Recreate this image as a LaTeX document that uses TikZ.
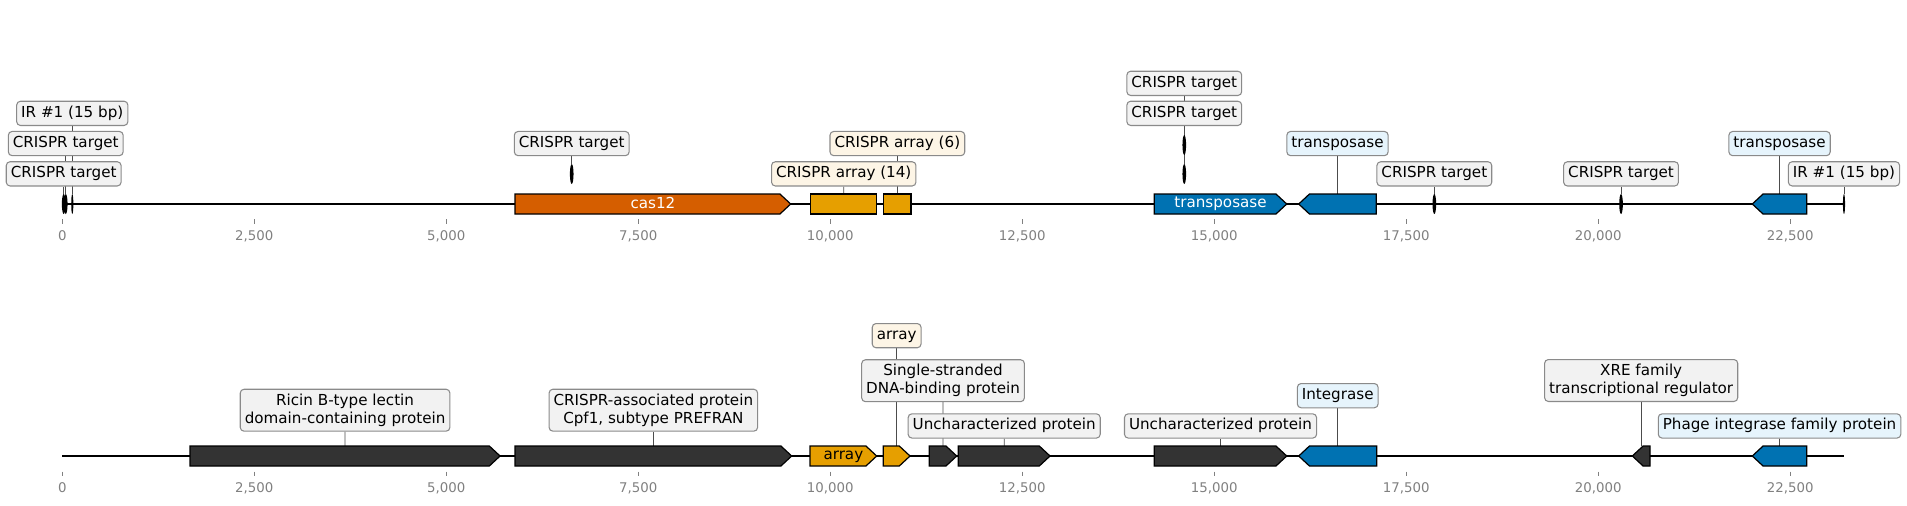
\documentclass[tikz,border=0pt]{standalone}
\usepackage{fontspec}
\setmainfont{DejaVu Sans}
\usepackage{xcolor}
\usepackage{tikz}
\usetikzlibrary{backgrounds}
\definecolor{vermil}{HTML}{D55E00}
\definecolor{amber}{HTML}{E69F00}
\definecolor{tnpblue}{HTML}{0072B2}
\definecolor{cdsgray}{HTML}{333333}
\definecolor{tagbg}{HTML}{F2F2F2}
\definecolor{tagcream}{HTML}{FDF5E6}
\definecolor{tagsky}{HTML}{E6F4FC}
\definecolor{tagrule}{HTML}{8A8A8A}
\definecolor{axisc}{HTML}{808080}
\newcommand{\tagfont}{\fontsize{10}{12}\selectfont}
\newcommand{\axfont}{\fontsize{8.8}{10}\selectfont}
\tikzset{
  track/.style={line width=1.3pt},
  gene/.style={draw=black,line width=0.8pt,line join=miter},
  tag/.style={draw=tagrule,fill=tagbg,line width=0.7pt,rounded corners=2.5pt,
    inner xsep=3pt,inner ysep=3pt,font=\tagfont,anchor=south},
  tagone/.style={tag,text height=7.6pt,text depth=2.4pt},
  tagtwo/.style={tag,align=center},
  cream/.style={fill=tagcream},
  sky/.style={fill=tagsky},
  stem/.style={draw=black!70,line width=0.55pt},
  axtick/.style={draw=axisc,line width=0.6pt},
  ticklab/.style={font=\axfont,text=axisc,text height=6.4pt,text depth=0pt,inner sep=0pt},
  intext/.style={font=\tagfont,inner sep=0pt,text height=7.6pt,text depth=2.4pt},
}

\begin{document}
\begin{tikzpicture}[x=50.688pt,y=-0.66pt]
  \useasboundingbox (-0.8112,0) rectangle (24.0195,505);
  \def\hd{0.14}
  % kb axes under both maps
  \foreach \y/\r in {219/a,471.5/b}
    \foreach \k/\t [count=\i] in {0/0,2.5/{2,500},5/{5,000},7.5/{7,500},10/{10,000},
        12.5/{12,500},15/{15,000},17.5/{17,500},20/{20,000},22.5/{22,500}}{
      \draw[axtick] (\k,\y) -- (\k,{\y+4.5});
      \node[ticklab] (\r\i) at (\k,{\y+16.5}) {\t};
    }
  \draw[track] (0,204) -- (23.199,204);
  \draw[track] (0,456) -- (23.199,456);
  % forward genes
  \foreach \n/\a/\b/\t/\c in {cas/5.895/9.484/204/vermil, tnpA/14.219/15.943/204/tnpblue,
      ricin/1.663/5.700/456/cdsgray, cpf/5.895/9.497/456/cdsgray, arrA/9.736/10.604/456/amber,
      arrB/10.690/11.038/456/amber, ssb/11.289/11.646/456/cdsgray,
      unkA/11.667/12.861/456/cdsgray, unkB/14.219/15.943/456/cdsgray}{
    \draw[gene,fill=\c] (\a,{\t-10}) -- ({\b-\hd},{\t-10}) -- (\b,\t)
      -- ({\b-\hd},{\t+10}) -- (\a,{\t+10}) -- cycle;
    \coordinate (\n) at ({(\a+\b)/2},{\t-10});
  }
  % reverse genes
  \foreach \n/\a/\b/\t/\c in {tnpB/16.099/17.109/204/tnpblue, tnpC/22.005/22.714/204/tnpblue,
      intg/16.099/17.115/456/tnpblue, xre/20.443/20.673/456/cdsgray,
      phage/22.005/22.714/456/tnpblue}{
    \draw[gene,fill=\c] (\b,{\t-10}) -- ({\a+\hd},{\t-10}) -- (\a,\t)
      -- ({\a+\hd},{\t+10}) -- (\b,{\t+10}) -- cycle;
    \coordinate (\n) at ({(\a+\b)/2},{\t-10});
  }
  % CRISPR arrays (no strand)
  \foreach \n/\a/\b in {arr14/9.745/10.604, arr6/10.695/11.051}{
    \draw[gene,fill=amber] (\a,194) rectangle (\b,214);
    \coordinate (\n) at ({(\a+\b)/2},194);
  }
  % targets and inverted repeats
  \foreach \n/\x/\y/\w in {sA/0.018/204/1.2, sB/0.045/204/1.2, irA/0.130/204/0.7,
      sC/6.633/174/1.2, sD/14.609/145/1.2, sE/14.609/174/1.2, sF/17.865/204/1.2,
      sG/20.296/204/1.2, irB/23.199/204/0.7}{
    \fill (\x,\y) ellipse [x radius=\w pt, y radius=6.6pt];
    \coordinate (\n) at (\x,{\y-10});
  }
  \node[intext,text=white] (casT) at (7.690,205) {cas12};
  \node[intext,text=white] (tnpT) at (15.081,204) {transposase};
  \node[intext] (arrT) at (10.170,456) {array};
  % labels, top map
  \node[tagone] (lsA) at (0.018,186.5) {CRISPR target};
  \node[tagone] (lsB) at (0.045,156.2) {CRISPR target};
  \node[tagone] (lirA) at (0.130,126) {IR \#1 (15 bp)};
  \node[tagone] (lsC) at (6.633,156.2) {CRISPR target};
  \node[tagone,cream] (l14) at (10.175,186.5) {CRISPR array (14)};
  \node[tagone,cream] (l6) at (10.873,156.2) {CRISPR array (6)};
  \node[tagone] (lsD) at (14.609,126) {CRISPR target};
  \node[tagone] (lsE) at (14.609,96) {CRISPR target};
  \node[tagone,sky] (ltnpB) at (16.604,156.2) {transposase};
  \node[tagone] (lsF) at (17.865,186.5) {CRISPR target};
  \node[tagone] (lsG) at (20.296,186.5) {CRISPR target};
  \node[tagone,sky] (ltnpC) at (22.360,156.2) {transposase};
  \node[tagone] (lirB) at (23.199,186.5) {IR \#1 (15 bp)};
  % labels, bottom map
  \node[tagtwo] (lricin) at (3.682,431.7) {Ricin B-type lectin\\domain-containing protein};
  \node[tagtwo] (lcpf) at (7.696,431.7) {CRISPR-associated protein\\Cpf1, subtype PREFRAN};
  \node[tagone,cream] (larrB) at (10.864,348.3) {array};
  \node[tagtwo] (lssb) at (11.468,402.2) {Single-stranded\\DNA-binding protein};
  \node[tagone] (lunkA) at (12.264,438.6) {Uncharacterized protein\ };
  \node[tagone] (lunkB) at (15.081,438.6) {Uncharacterized protein\ };
  \node[tagone,sky] (lintg) at (16.607,408.3) {Integrase\ };
  \node[tagtwo] (lxre) at (20.558,402) {XRE family\\transcriptional regulator};
  \node[tagone,sky] (lphage) at (22.360,438.6) {Phage integrase family protein};
  \begin{scope}[on background layer]
    \foreach \a/\b in {sA/lsA, sB/lsB, irA/lirA, sC/lsC, arr14/l14, arr6/l6, sD/lsD, sE/lsE,
        tnpB/ltnpB, sF/lsF, sG/lsG, tnpC/ltnpC, irB/lirB, ricin/lricin, cpf/lcpf,
        arrB/larrB, ssb/lssb, unkA/lunkA, unkB/lunkB, intg/lintg, xre/lxre, phage/lphage}
      \draw[stem] (\a) -- (\b.south);
  \end{scope}
\end{tikzpicture}
\end{document}
